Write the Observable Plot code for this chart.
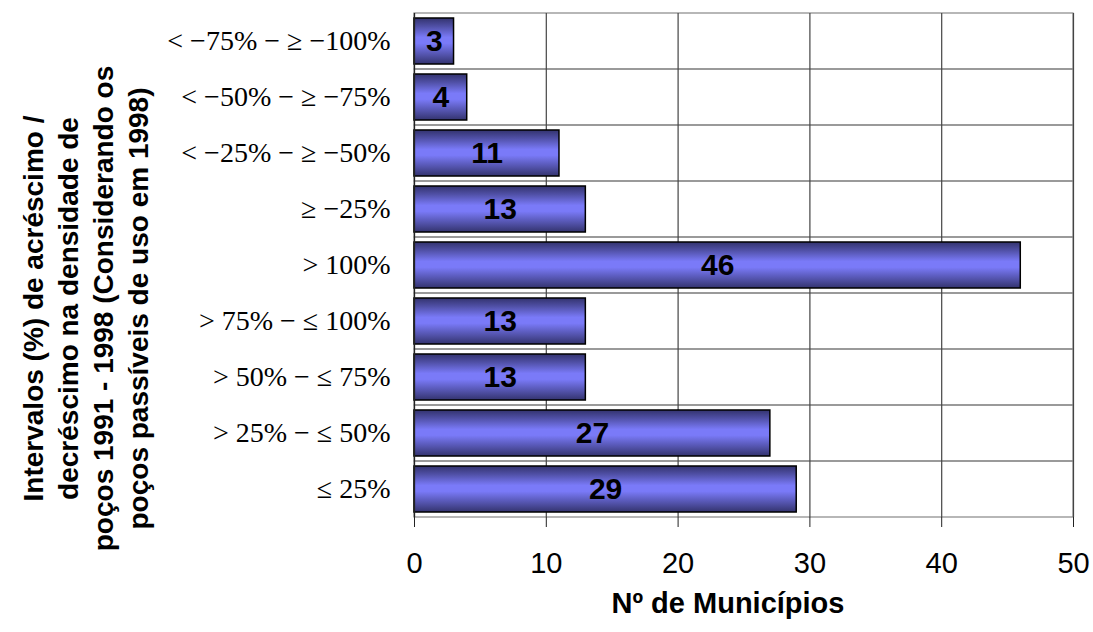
<!DOCTYPE html>
<html>
<head>
<meta charset="utf-8">
<script src="https://cdn.jsdelivr.net/npm/d3@7"></script>
<script src="https://cdn.jsdelivr.net/npm/@observablehq/plot@0.6"></script>
<style>
  html, body { margin: 0; padding: 0; background: #fff; }
  svg { overflow: visible; }
</style>
</head>
<body>
<div id="chart"></div>
<script>
const categories = [
  "< −75% − ≥ −100%",
  "< −50% − ≥ −75%",
  "< −25% − ≥ −50%",
  "≥ −25%",
  "> 100%",
  "> 75% − ≤ 100%",
  "> 50% − ≤ 75%",
  "> 25% − ≤ 50%",
  "≤ 25%"
];
const values = [3, 4, 11, 13, 46, 13, 13, 27, 29];
const xTicks = [0, 10, 20, 30, 40, 50];
const xTitle = "Nº de Municípios";
const yTitle = "Intervalos (%) de acréscimo /\ndecréscimo na densidade de\npoços 1991 - 1998 (Considerando os\npoços passíveis de uso em 1998)";

const data = categories.map((c, i) => ({cat: c, value: values[i]}));

const plot = Plot.plot({
  width: 1093,
  height: 632,
  marginLeft: 414,
  marginRight: 20,
  marginTop: 13,
  marginBottom: 115,
  style: {fontFamily: "Liberation Sans, Arial, sans-serif", background: "white"},
  x: {domain: [0, 50]},
  y: {domain: categories, padding: 0},
  marks: [
    Plot.barX(categories, {x1: 0, x2: 50, y: d => d, fill: "none", stroke: "#888", strokeWidth: 1.2}),
    Plot.ruleX(xTicks.slice(1), {stroke: "#444", strokeWidth: 1.2}),
    Plot.barX(data, {x: "value", y: "cat", fill: "url(#barGrad)", stroke: "black", strokeWidth: 1.5, insetTop: 5, insetBottom: 5}),
    Plot.ruleX([0], {stroke: "#222", strokeWidth: 1.3}),
    Plot.axisX({ticks: xTicks, tickSize: 10, tickPadding: 25, fontSize: 29, label: null, tickFormat: d3.format("d"), stroke: "#222"}),
    Plot.axisY({tickSize: 0, tickPadding: 24, fontSize: 28, fontFamily: "Liberation Serif, Times New Roman, serif", label: null}),
    Plot.text(data, {x: d => d.value / 2, y: "cat", text: d => String(d.value), fontSize: 30, fontWeight: "bold", fill: "black"}),
    Plot.text([xTitle], {frameAnchor: "bottom", dy: 95, dx: -16, fontSize: 29, fontWeight: "bold", fill: "black"}),
    Plot.text([yTitle], {frameAnchor: "left", textAnchor: "middle", dx: -330, dy: 43, rotate: -90, fontSize: 28, fontWeight: "bold", lineHeight: 1.25, fill: "black"})
  ]
});

const svgNS = "http://www.w3.org/2000/svg";
const defs = document.createElementNS(svgNS, "defs");
defs.innerHTML = `<linearGradient id="barGrad" x1="0" y1="0" x2="0" y2="1">
  <stop offset="0" stop-color="#33336e"/>
  <stop offset="0.18" stop-color="#5050a6"/>
  <stop offset="0.42" stop-color="#7a7af8"/>
  <stop offset="0.55" stop-color="#7a7af8"/>
  <stop offset="0.82" stop-color="#5050a6"/>
  <stop offset="1" stop-color="#33336e"/>
</linearGradient>`;
const svgEl = plot.tagName.toLowerCase() === "svg" ? plot : plot.querySelector("svg");
svgEl.insertBefore(defs, svgEl.firstChild);
document.getElementById("chart").appendChild(plot);
</script>
</body>
</html>
